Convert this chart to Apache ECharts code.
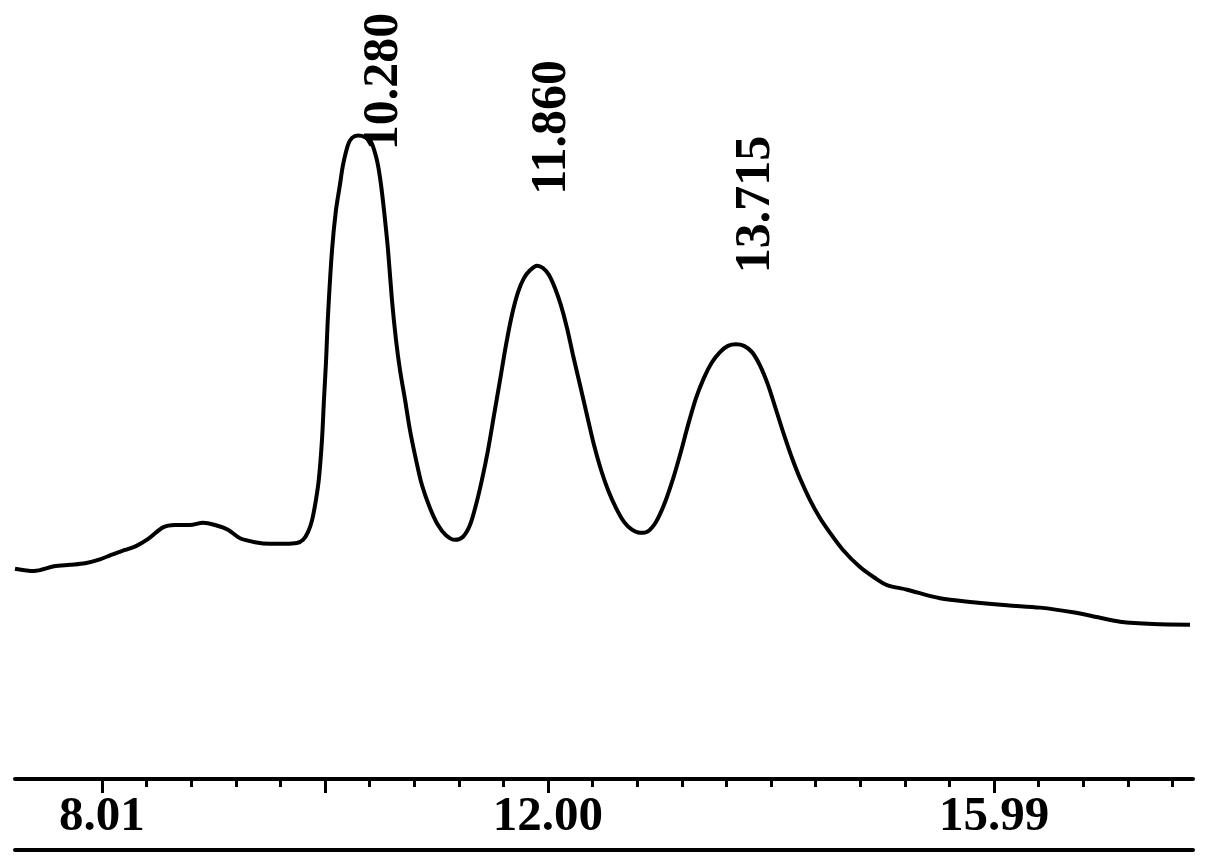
<!DOCTYPE html>
<html>
<head>
<meta charset="utf-8">
<script src="https://cdn.jsdelivr.net/npm/echarts@6/dist/echarts.min.js"></script>
<style>
  html, body { margin: 0; padding: 0; background: #fff; }
  #chart { width: 1205px; height: 866px; }
</style>
</head>
<body>
<div id="chart"></div>
<script>
  // retention time (min) and detector signal
  const times = [7.232, 7.402, 7.581, 7.724, 7.858, 7.992, 8.099, 8.216, 8.314, 8.430,
    8.556, 8.663, 8.797, 8.914, 9.021, 9.137, 9.245, 9.379, 9.513, 9.647,
    9.754, 9.808, 9.853, 9.889, 9.924, 9.951, 9.978, 9.996, 10.014, 10.032,
    10.068, 10.103, 10.139, 10.166, 10.211, 10.247, 10.300, 10.363, 10.416, 10.452,
    10.479, 10.506, 10.533, 10.569, 10.604, 10.640, 10.676, 10.721, 10.765, 10.819,
    10.873, 10.944, 11.016, 11.087, 11.168, 11.240, 11.302, 11.356, 11.409, 11.463,
    11.517, 11.571, 11.624, 11.678, 11.732, 11.785, 11.839, 11.902, 11.955, 12.009,
    12.063, 12.116, 12.170, 12.224, 12.286, 12.349, 12.411, 12.474, 12.537, 12.608,
    12.680, 12.751, 12.823, 12.894, 12.966, 13.038, 13.109, 13.181, 13.252, 13.324,
    13.395, 13.467, 13.539, 13.610, 13.682, 13.753, 13.825, 13.896, 13.968, 14.040,
    14.111, 14.183, 14.254, 14.344, 14.433, 14.523, 14.639, 14.791, 14.925, 15.033,
    15.212, 15.507, 15.802, 16.106, 16.401, 16.697, 16.938, 17.117, 17.412, 17.743];
  const signal = [27.0, 26.7, 27.3, 27.5, 27.7, 28.2, 28.8, 29.4, 29.9, 30.9,
    32.3, 32.6, 32.6, 32.9, 32.6, 32.0, 30.9, 30.4, 30.2, 30.2,
    30.3, 30.7, 31.7, 33.2, 35.8, 38.6, 43.5, 48.7, 53.5, 59.5,
    67.9, 73.0, 76.3, 78.8, 81.4, 82.3, 82.6, 82.4, 81.8, 80.4,
    78.8, 76.3, 73.0, 67.9, 61.5, 56.4, 52.5, 48.7, 44.8, 41.0,
    37.7, 34.8, 32.6, 31.3, 30.7, 31.1, 32.6, 35.2, 38.4, 42.2,
    46.7, 51.2, 55.7, 59.6, 62.5, 64.3, 65.3, 65.9, 65.6, 64.7,
    63.0, 60.8, 57.9, 54.4, 50.6, 46.7, 42.9, 39.7, 37.1, 34.8,
    33.0, 32.0, 31.6, 31.8, 33.0, 35.2, 38.1, 41.6, 45.4, 48.9,
    51.5, 53.5, 54.8, 55.6, 55.8, 55.6, 54.8, 53.1, 50.6, 47.4,
    44.2, 41.2, 38.6, 35.8, 33.5, 31.6, 29.4, 27.2, 25.8, 24.9,
    24.3, 23.2, 22.7, 22.3, 22.0, 21.4, 20.7, 20.2, 19.9, 19.8];

  const peakTimes = [10.280, 11.860, 13.715];
  const peakHeights = [82.5, 65.9, 55.8];

  const labelTicks = [8.01, 12.00, 15.99];
  const majorTicks = [8.01, 10.005, 12.00, 15.99];
  const minorTicks = [8.409, 8.808, 9.207, 9.606, 10.404, 10.803, 11.202, 11.601,
    12.399, 12.798, 13.197, 13.596, 13.995, 14.394, 14.793, 15.192, 15.591,
    16.389, 16.788, 17.187, 17.586];

  const xMin = 7.232, xMax = 17.77;
  const serif = '"Liberation Serif", "Times New Roman", serif';
  // label offsets are in the rotated text frame: [up, right]
  const labelOffsets = [[-14, 28], [71, 20], [71, 16]];

  const chart = echarts.init(document.getElementById('chart'));
  chart.setOption({
    animation: false,
    backgroundColor: '#fff',
    grid: { left: 15, right: 12, top: 0, bottom: 87 },
    xAxis: [{
      type: 'value', min: xMin, max: xMax,
      axisLine: { lineStyle: { color: '#000', width: 4 } },
      axisTick: { customValues: majorTicks, length: 14, lineStyle: { color: '#000', width: 3 } },
      axisLabel: {
        customValues: labelTicks, margin: 14,
        formatter: v => v.toFixed(2),
        color: '#000', fontFamily: serif, fontWeight: 'bold', fontSize: 49
      },
      splitLine: { show: false }
    }, {
      type: 'value', min: xMin, max: xMax, position: 'bottom',
      axisLine: { show: false },
      axisTick: { customValues: minorTicks, length: 8, lineStyle: { color: '#000', width: 3 } },
      axisLabel: { show: false },
      splitLine: { show: false }
    }, {
      type: 'value', min: xMin, max: xMax, position: 'bottom', offset: 71,
      axisLine: { lineStyle: { color: '#000', width: 4 } },
      axisTick: { show: false },
      axisLabel: { show: false },
      splitLine: { show: false }
    }],
    yAxis: { type: 'value', min: 0, max: 100, show: false },
    series: [{
      type: 'line',
      data: times.map((t, i) => [t, signal[i]]),
      showSymbol: false,
      smooth: 0.3,
      lineStyle: { color: '#000', width: 4 },
      silent: true
    }, {
      type: 'scatter',
      symbolSize: 0,
      silent: true,
      itemStyle: { opacity: 1, color: '#000' },
      data: peakTimes.map((t, i) => ({
        value: [t, peakHeights[i]],
        label: { offset: labelOffsets[i] }
      })),
      label: {
        show: true,
        position: 'inside',
        rotate: 90,
        align: 'left',
        verticalAlign: 'middle',
        opacity: 1,
        formatter: p => p.value[0].toFixed(3),
        color: '#000', fontFamily: serif, fontWeight: 'bold', fontSize: 50
      }
    }]
  });
</script>
</body>
</html>
